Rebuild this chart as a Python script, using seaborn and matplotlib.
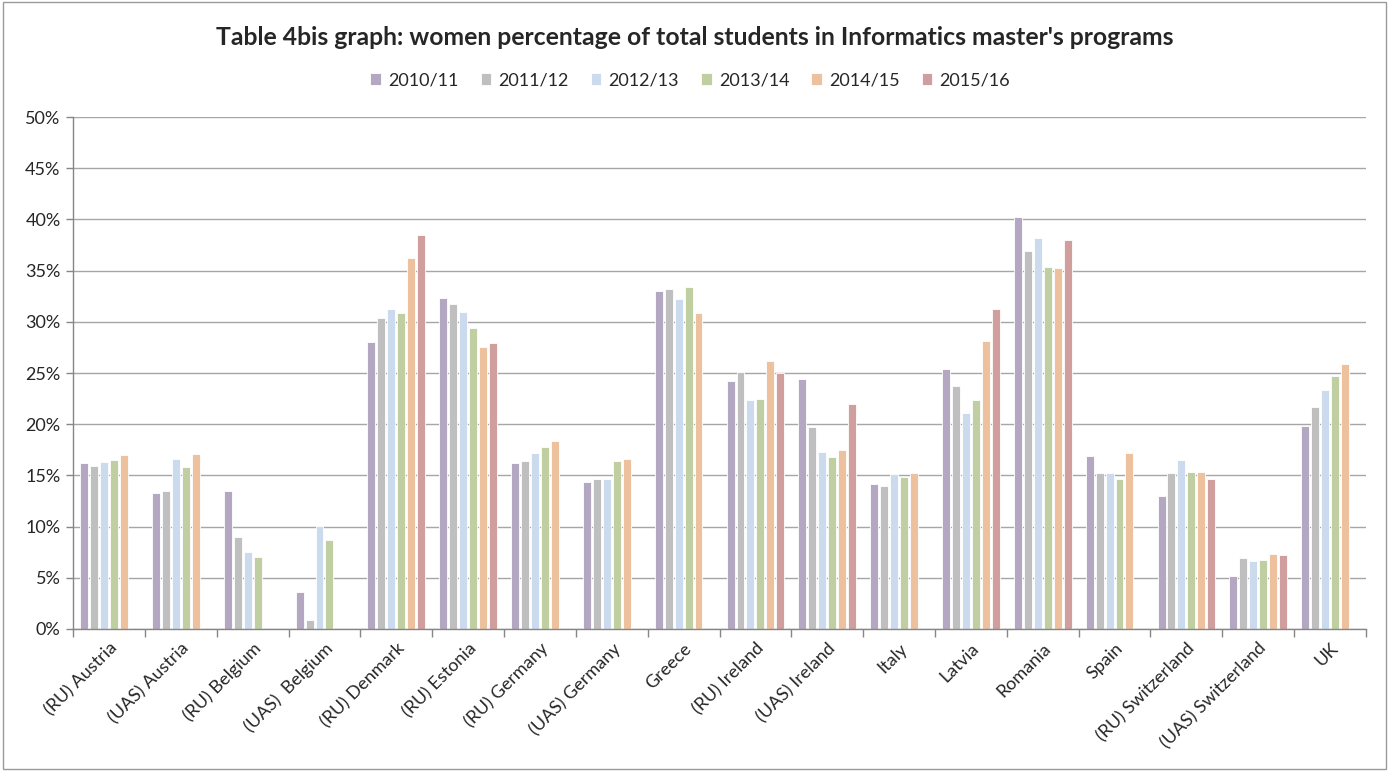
"""
Table 4bis graph: women percentage of total students in Informatics master's programs.
Grouped bars, one group per country/institution type, one bar per academic year.
"""

import numpy as np
import pandas as pd
import matplotlib
matplotlib.use('Agg')
import matplotlib.pyplot as plt
from matplotlib.patches import Rectangle
from matplotlib.ticker import FuncFormatter, MultipleLocator
import seaborn as sns

categories = ['(RU) Austria', '(UAS) Austria', '(RU) Belgium', '(UAS)  Belgium',
              '(RU) Denmark', '(RU) Estonia', '(RU) Germany', '(UAS) Germany',
              'Greece', '(RU) Ireland', '(UAS) Ireland', 'Italy', 'Latvia',
              'Romania', 'Spain', '(RU) Switzerland', '(UAS) Switzerland', 'UK']

years = ['2010/11', '2011/12', '2012/13', '2013/14', '2014/15', '2015/16']

# valores (en %), NaN = sin dato
y2010 = [16.2, 13.3, 13.5, 3.6, 28.0, 32.3, 16.2, 14.4, 33.0, 24.2, 24.4, 14.2, 25.4, 40.2, 16.9, 13.0, 5.2, 19.8]
y2011 = [15.9, 13.5, 9.0, 0.9, 30.4, 31.7, 16.4, 14.6, 33.2, 25.1, 19.7, 14.0, 23.7, 36.9, 15.2, 15.2, 6.9, 21.7]
y2012 = [16.3, 16.6, 7.5, 10.1, 31.3, 31.0, 17.2, 14.6, 32.2, 22.4, 17.3, 15.1, 21.1, 38.2, 15.2, 16.5, 6.6, 23.3]
y2013 = [16.5, 15.8, 7.0, 8.7, 30.9, 29.4, 17.8, 16.4, 33.4, 22.5, 16.8, 14.8, 22.4, 35.4, 14.6, 15.3, 6.7, 24.7]
y2014 = [17.0, 17.1, np.nan, np.nan, 36.2, 27.5, 18.4, 16.6, 30.9, 26.2, 17.5, 15.2, 28.1, 35.3, 17.2, 15.3, 7.3, 25.9]
y2015 = [np.nan, np.nan, np.nan, np.nan, 38.5, 27.9, np.nan, np.nan, np.nan, 25.0, 22.0, np.nan, 31.3, 38.0, np.nan, 14.6, 7.2, np.nan]

colors = ['#B3A2C7', '#BFBFBF', '#C6D9F1', '#C3D69B', '#FAC090', '#D99694']

# tabla larga para seaborn
wide = pd.DataFrame({'category': categories, years[0]: y2010, years[1]: y2011,
                     years[2]: y2012, years[3]: y2013, years[4]: y2014, years[5]: y2015})
df = wide.melt(id_vars='category', var_name='year', value_name='pct')

sns.set_theme(style='white')
plt.rcParams['font.family'] = ['Lato', 'DejaVu Sans']

fig = plt.figure(figsize=(13.89, 7.71), dpi=100)
ax = fig.add_axes([0.0526, 0.1842, 0.9308, 0.664])

sns.barplot(data=df, x='category', y='pct', hue='year', order=categories,
            hue_order=years, palette=colors, width=0.83, gap=0.2,
            edgecolor='white', linewidth=0.6, ax=ax)

ax.set_ylim(0, 50)
ax.set_xlim(-0.5, len(categories) - 0.5)
ax.yaxis.set_major_locator(MultipleLocator(5))
ax.yaxis.set_major_formatter(FuncFormatter(lambda v, _: f'{v:.0f}%'))
ax.grid(axis='y', color='#A6A6A6', linewidth=1)
ax.set_axisbelow(True)
ax.set_xlabel('')
ax.set_ylabel('')

for side in ['top', 'right']:
    ax.spines[side].set_visible(False)
for side in ['left', 'bottom']:
    ax.spines[side].set_color('#868686')
    ax.spines[side].set_linewidth(1)

# etiquetas en el centro, marcas en los limites de categoria
ax.set_xticks(range(len(categories)))
ax.set_xticklabels(categories, rotation=45, ha='right', rotation_mode='anchor', fontsize=13)
ax.set_xticks(np.arange(-0.5, len(categories), 1), minor=True)
ax.tick_params(axis='x', which='major', length=0, pad=8)
ax.tick_params(axis='x', which='minor', length=6, color='#868686', width=1, direction='out')
ax.tick_params(axis='y', which='major', length=5, color='#868686', width=1,
               direction='out', labelsize=13, pad=4)
ax.tick_params(axis='both', bottom=True, left=True, which='both')

# leyenda horizontal arriba
handles, labels = ax.get_legend_handles_labels()
ax.legend_.remove()
fig.legend(handles, labels, loc='center', bbox_to_anchor=(0.497, 0.896), ncol=6,
           frameon=False, fontsize=13, handlelength=0.6, handleheight=0.6,
           handletextpad=0.4, columnspacing=1.2)

fig.text(0.5, 0.951, "Table 4bis graph: women percentage of total students in Informatics master's programs",
         ha='center', va='center', fontsize=17.8, fontweight='bold')

# borde del grafico
fig.patches.append(Rectangle((0.002, 0.003), 0.996, 0.994, transform=fig.transFigure,
                             fill=False, edgecolor='#9A9A9A', linewidth=1))

fig.savefig('out.png', dpi=100)
